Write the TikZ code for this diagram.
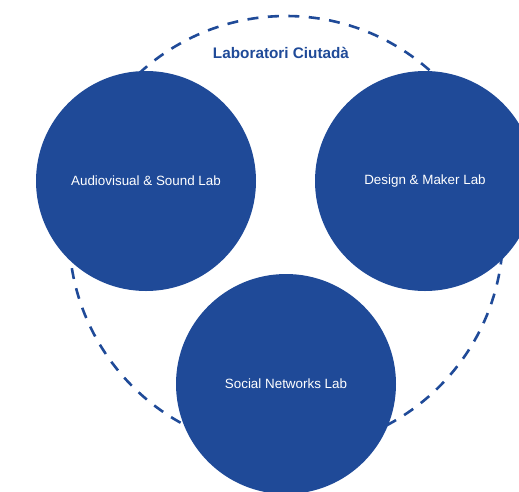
\documentclass[tikz,border=0pt]{standalone}
\usepackage{fontspec}
\setmainfont{Liberation Sans}
\definecolor{labblue}{RGB}{31,74,152}
\begin{document}
\begin{tikzpicture}[x=1pt,y=-1pt,
  lab/.style={circle,fill=labblue,draw=none,minimum size=220pt,inner sep=0pt,
    text=white,font=\fontsize{13.4}{15}\selectfont},
  ring/.style={draw=labblue,line width=2.6pt,dash pattern=on 11pt off 9.5pt}]
\useasboundingbox (0,0) rectangle (519,491);
\clip (0,0) rectangle (519,491);
\coordinate (ctr) at (286,233);
\draw[ring] (ctr) circle[radius=217];
\node[lab] (av) at (146,181) {Audiovisual \& Sound Lab};
\node[lab] (dm) at (425,181) {Design \& Maker Lab};
\node[lab] (sn) at (286,384) {Social Networks Lab};
\node[text=labblue,font=\fontsize{15.3}{17}\selectfont\bfseries] (title) at (281,53) {Laboratori Ciutadà};
\end{tikzpicture}
\end{document}
